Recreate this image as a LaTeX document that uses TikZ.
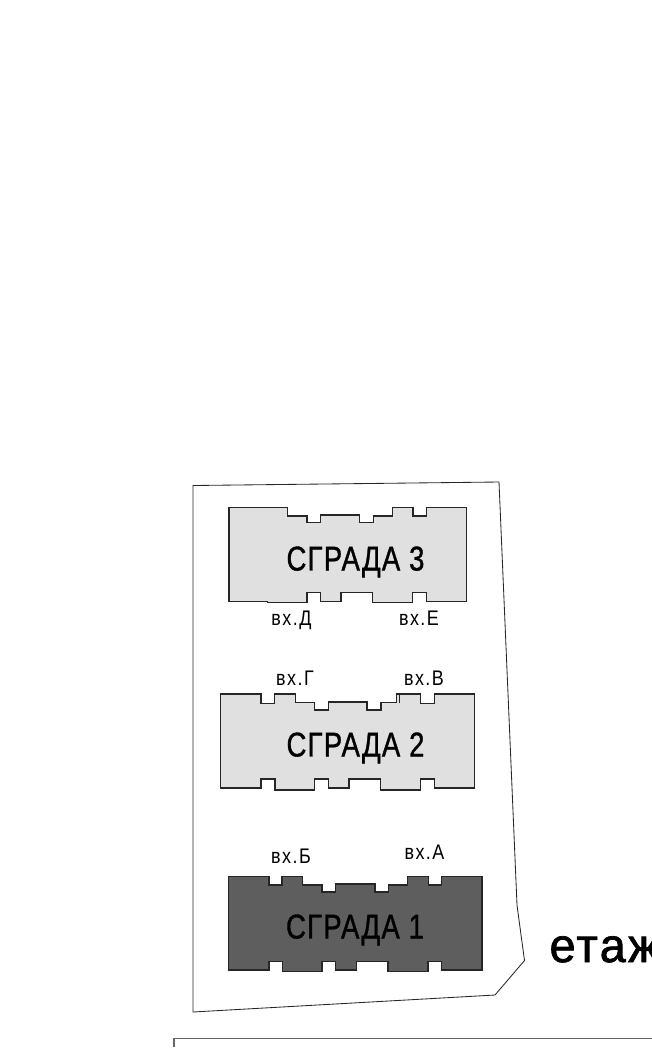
\documentclass[tikz,border=0pt]{standalone}
\usepackage{fontspec}
\setmainfont{Liberation Sans}
\newfontfamily\titlefont[FakeStretch=0.8,LetterSpace=3.5,FakeBold=1]{Liberation Sans}
\newfontfamily\entrancefont[FakeStretch=0.85,LetterSpace=7]{Liberation Sans}
\newfontfamily\floorfont[FakeStretch=0.98,LetterSpace=5,FakeBold=1.5]{Liberation Sans}
\begin{document}
\begin{tikzpicture}[x=0.025cm, y=-0.025cm, thick,
    % styles for the site, the buildings and the labels
        site/.style={draw=black!85, line width=0.6pt, line join=miter},
        frameline/.style={draw=black!60, line width=0.8pt},
        building/.style={draw=black!85, fill=black!12, line width=0.9pt, line join=miter},
        buildingdark/.style={building, fill=black!63},
        title/.style={anchor=base, inner sep=0pt, font=\titlefont\fontsize{24.5}{26}\selectfont},
        entrance/.style={anchor=base, inner sep=0pt, font=\entrancefont\fontsize{15}{17}\selectfont},
        floorlabel/.style={anchor=base west, inner sep=0pt, font=\floorfont\fontsize{34}{36}\selectfont}]

        \useasboundingbox (0,0) rectangle (652,1061);

        % site outline and the frame below it
        \draw[site] (193,485.5) -- (499,482) -- (517,905) -- (519,920) -- (524.5,960.5) -- (495,995) -- (193,1012) -- cycle;
        \draw[frameline] (174,1047) -- (174,1038.5) -- (652,1038.5);

        % building 3
        \draw[building] (229,507.3) -- (287.7,507.3) -- (287.7,516) -- (307,516) -- (307,522.3) -- (320.3,522.3) -- (320.3,515) -- (359.7,515) -- (359.7,522.3) -- (373.3,522.3) -- (373.3,516) -- (392.3,516) -- (392.3,507.3) -- (413,507.3) -- (413,516) -- (426.7,516) -- (426.7,507.3) -- (466.7,507.3) -- (466.7,601.7) -- (426.7,601.7) -- (426.7,592.3) -- (412.7,592.3) -- (412.7,602.7) -- (372.7,602.7) -- (372.7,592.3) -- (341,592.3) -- (341,601.7) -- (320.7,601.7) -- (320.7,592.3) -- (307,592.3) -- (307,602.7) -- (267.7,602.7) -- (267.7,601.7) -- (229,601.7) -- cycle;

        % building 2
        \draw[building] (220.7,694) -- (261,694) -- (261,703.3) -- (274.3,703.3) -- (274.3,694) -- (295.3,694) -- (295.3,702.7) -- (314.7,702.7) -- (314.7,710) -- (328.3,710) -- (328.3,702) -- (367,702) -- (367,710) -- (381,710) -- (381,702.7) -- (396.7,702.7) -- (396.7,694) -- (420.7,694) -- (420.7,703.3) -- (434.3,703.3) -- (434.3,694) -- (474.3,694) -- (474.3,788) -- (434.3,788) -- (434.3,779) -- (420.3,779) -- (420.3,790) -- (380.3,790) -- (380.3,779) -- (349,779) -- (349,788) -- (328.7,788) -- (328.7,779) -- (314.7,779) -- (314.7,790) -- (275,790) -- (275,779) -- (261,779) -- (261,788) -- (220.7,788) -- cycle;
        \draw[building] (399.3,694) -- (399.3,702.7);

        % building 1
        \draw[buildingdark] (228.3,876.3) -- (269,876.3) -- (269,885) -- (282,885) -- (282,876.3) -- (302.7,876.3) -- (302.7,885) -- (322,885) -- (322,892) -- (335.7,892) -- (335.7,884) -- (375,884) -- (375,892) -- (388.3,892) -- (388.3,885) -- (407.3,885) -- (407.3,876.3) -- (428.7,876.3) -- (428.7,885) -- (441.7,885) -- (441.7,876.3) -- (482,876.3) -- (482,970) -- (441.7,970) -- (441.7,961.3) -- (428,961.3) -- (428,971.7) -- (388,971.7) -- (388,961.3) -- (356.3,961.3) -- (356.3,970) -- (335.7,970) -- (335.7,961.3) -- (322,961.3) -- (322,971.7) -- (282.3,971.7) -- (282.3,961.3) -- (269,961.3) -- (269,970) -- (228.3,970) -- cycle;

        % building names
        \node[title] (title3) at (355.5,570.5) {СГРАДА 3};
        \node[title] (title2) at (355.5,756.5) {СГРАДА 2};
        \node[title] (title1) at (355,938.5) {СГРАДА 1};

        % entrances
        \node[entrance] (entrD) at (291.5,625) {вх.Д};
        \node[entrance] (entrE) at (419,625) {вх.Е};
        \node[entrance] (entrG) at (295,685) {вх.Г};
        \node[entrance] (entrV) at (424,685) {вх.В};
        \node[entrance] (entrB) at (291,863) {вх.Б};
        \node[entrance] (entrA) at (424.5,859) {вх.А};

        % floor label, cut by the page edge
        \node[floorlabel] (floor) at (549,962) {етаж};
    \end{tikzpicture}
\end{document}
